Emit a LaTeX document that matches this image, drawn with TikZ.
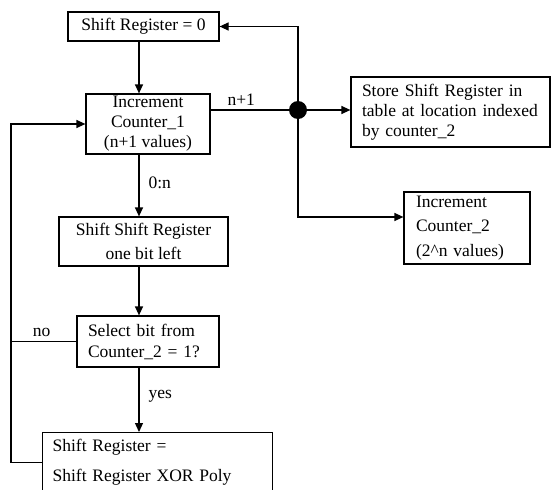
\documentclass[tikz,border=0pt]{standalone}
\usepackage{fontspec}
\setmainfont{Liberation Serif}
\usetikzlibrary{arrows.meta,calc}
\begin{document}
\begin{tikzpicture}[x=1pt,y=-1pt,
  box/.style={draw,line width=1.2pt,rectangle,inner sep=0pt,font=\fontsize{17.5}{20}\selectfont},
  arr/.style={line width=1.2pt,-{Triangle[length=9pt,width=8pt]}},
  ln/.style={line width=1.2pt},
  lab/.style={font=\fontsize{17.5}{20}\selectfont,inner sep=0pt}]
\fill[white] (0,0) rectangle (552,490);
\useasboundingbox (0,0) rectangle (552,490);
\clip (0,0) rectangle (552,490);

\node[box,minimum width=151pt,minimum height=29pt] (b1) at (143.5,26.5) {Shift Register = 0};
\node[box,align=center,minimum width=124pt,minimum height=60pt] (b2) at (148,124) {Increment\\Counter\_1\\(n+1 values)};
\node[box,align=left,text width=177pt,inner xsep=11pt,minimum height=70pt] (b3) at (450.5,112) {Store Shift Register in\\table at location indexed\\by counter\_2};
\node[box,align=left,text width=102pt,inner xsep=12pt,minimum height=72pt,font=\fontsize{17.5}{24.5}\selectfont] (b4) at (467,228) {Increment\\Counter\_2\\(2\textasciicircum n values)};
\node[box,align=center,minimum width=169pt,minimum height=49pt,font=\fontsize{17.5}{24}\selectfont] (b5) at (143.5,241.5) {Shift Shift Register\\one bit left};
\node[box,align=left,text width=120pt,inner xsep=11pt,minimum height=51pt,font=\fontsize{17.5}{21}\selectfont] (b6) at (148,341.5) {Select bit from\\Counter\_2 = 1?};
\node[box,align=left,text width=210pt,inner xsep=10pt,inner ysep=7pt,anchor=north west,font=\fontsize{17.5}{30}\selectfont] (b7) at (42,432) {Shift Register =\\Shift Register XOR Poly};

\node[circle,fill,inner sep=0pt,minimum size=18pt] (dot) at (298,110) {};

\coordinate (sp) at (139,0);
\coordinate (lx) at (11,0);
\coordinate (y4) at (0,217);

\draw[arr] (b1.south -| sp) -- (b2.north -| sp);
\draw[ln] (dot -| b2.east) -- (dot.center) node[lab,pos=0.35,above=4pt]{n+1};
\draw[arr] (dot.center) |- (b1.east);
\draw[arr] (dot.center) -- (dot -| b3.west);
\draw[arr] (dot.center) |- (b4.west |- y4);
\draw[arr] (b2.south -| sp) -- (b5.north -| sp) node[lab,pos=0.45,right=9pt]{0:n};
\draw[arr] (b5.south -| sp) -- (b6.north -| sp);
\draw[arr] (b6.south -| sp) -- (b7.north -| sp) node[lab,pos=0.45,right=9pt]{yes};
\draw[ln] (b6.west) -- (b6.west -| lx) node[lab,pos=0.53,above=4pt]{no};
\draw[arr] (b7.west) -- (b7.west -| lx) |- (b2.west);
\end{tikzpicture}
\end{document}
